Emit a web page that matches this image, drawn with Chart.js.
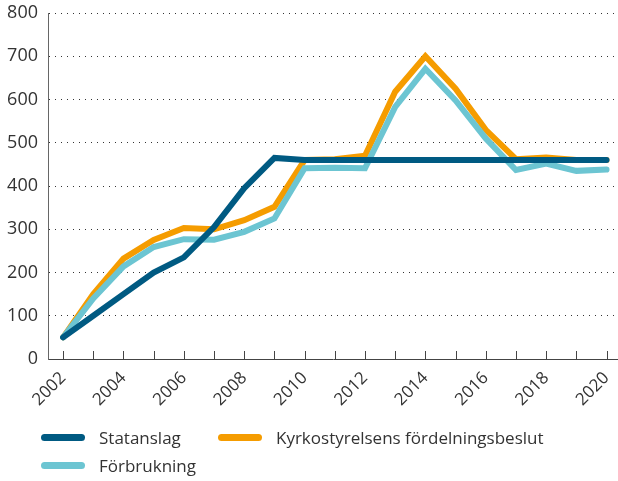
<!DOCTYPE html>
<html>
<head>
<meta charset="utf-8">
<script src="https://cdn.jsdelivr.net/npm/chart.js@4.4.1/dist/chart.umd.min.js"></script>
<style>
  html, body { margin: 0; padding: 0; background: #fff; }
  #wrap { position: relative; width: 618px; height: 481px; font-family: "Open Sans", sans-serif; color: #333; }
  #c { position: absolute; left: 0; top: 0; }
  .leg { position: absolute; display: flex; align-items: center; font-size: 17px; color: #333; white-space: nowrap; }
  .sw { width: 44px; height: 7px; border-radius: 4px; margin-right: 14px; }
</style>
</head>
<body>
<div id="wrap">
  <canvas id="c" width="618" height="481"></canvas>
  <div class="leg" style="left:41px; top:426px;"><span class="sw" style="background:#005a82"></span><span>Statanslag</span></div>
  <div class="leg" style="left:218px; top:426px;"><span class="sw" style="background:#f59c00"></span><span>Kyrkostyrelsens fördelningsbeslut</span></div>
  <div class="leg" style="left:41px; top:454px;"><span class="sw" style="background:#6cc5d2"></span><span>Förbrukning</span></div>
</div>
<script>
const years = [2002,2003,2004,2005,2006,2007,2008,2009,2010,2011,2012,2013,2014,2015,2016,2017,2018,2019,2020];
const statanslag = [50,100,150,200,235,305,395,465,460,460,460,460,460,460,460,460,460,460,460];
const fordelningsbeslut = [50,150,232,275,303,300,321,352,460,462,470,618,700,625,530,462,466,460,460];
const forbrukning = [50,140,214,259,277,276,294,325,441,442,441,583,671,598,510,437,452,435,438];
const yTicks = [0,100,200,300,400,500,600,700,800];

const toXY = arr => arr.map((v, i) => ({x: years[i], y: v}));

const innerTicks = {
  id: 'innerTicks',
  afterDraw(chart) {
    const xs = chart.scales.x, ctx = chart.ctx, b = chart.chartArea.bottom;
    ctx.save();
    ctx.strokeStyle = '#444';
    ctx.lineWidth = 1;
    ctx.beginPath();
    years.forEach(y => {
      const px = Math.round(xs.getPixelForValue(y)) + 0.5;
      ctx.moveTo(px, b);
      ctx.lineTo(px, b - 8);
    });
    ctx.stroke();
    ctx.restore();
  }
};

const lineStyle = {borderWidth: 6, pointRadius: 0, borderCapStyle: 'round'};

new Chart(document.getElementById('c'), {
  type: 'line',
  data: {
    datasets: [
      Object.assign({label: 'Statanslag', data: toXY(statanslag), borderColor: '#005a82', backgroundColor: '#005a82', order: 1}, lineStyle),
      Object.assign({label: 'Kyrkostyrelsens fördelningsbeslut', data: toXY(fordelningsbeslut), borderColor: '#f59c00', backgroundColor: '#f59c00', order: 3}, lineStyle),
      Object.assign({label: 'Förbrukning', data: toXY(forbrukning), borderColor: '#6cc5d2', backgroundColor: '#6cc5d2', order: 2}, lineStyle)
    ]
  },
  options: {
    responsive: false,
    animation: false,
    layout: {padding: {top: 13, right: 0, left: 0, bottom: 0}},
    plugins: {legend: {display: false}, tooltip: {enabled: false}},
    scales: {
      x: {
        type: 'linear',
        min: 2001.5,
        max: 2020.38,
        grid: {display: true, drawOnChartArea: false, drawTicks: false},
        border: {display: true, color: '#444', width: 1},
        ticks: {
          stepSize: 1,
          includeBounds: false,
          autoSkip: false,
          minRotation: 45,
          maxRotation: 45,
          padding: 9,
          color: '#333',
          font: {family: 'Open Sans', size: 17},
          callback: v => (v % 2 === 0 ? String(v) : '')
        },
        afterFit(s) { s.height = 122; s.paddingLeft = 0; s.paddingRight = 0; }
      },
      y: {
        min: 0,
        max: 800,
        grid: {color: '#333', lineWidth: 1, drawTicks: false},
        border: {display: true, color: '#666', width: 1, dash: [1, 5]},
        afterBuildTicks(s) { s.ticks = yTicks.map(v => ({value: v})); },
        ticks: {
          stepSize: 100,
          padding: 10,
          color: '#333',
          font: {family: 'Open Sans', size: 18}
        },
        afterFit(s) { s.width = 48; s.paddingTop = 0; s.paddingBottom = 0; }
      }
    }
  },
  plugins: [innerTicks]
});
</script>
</body>
</html>
